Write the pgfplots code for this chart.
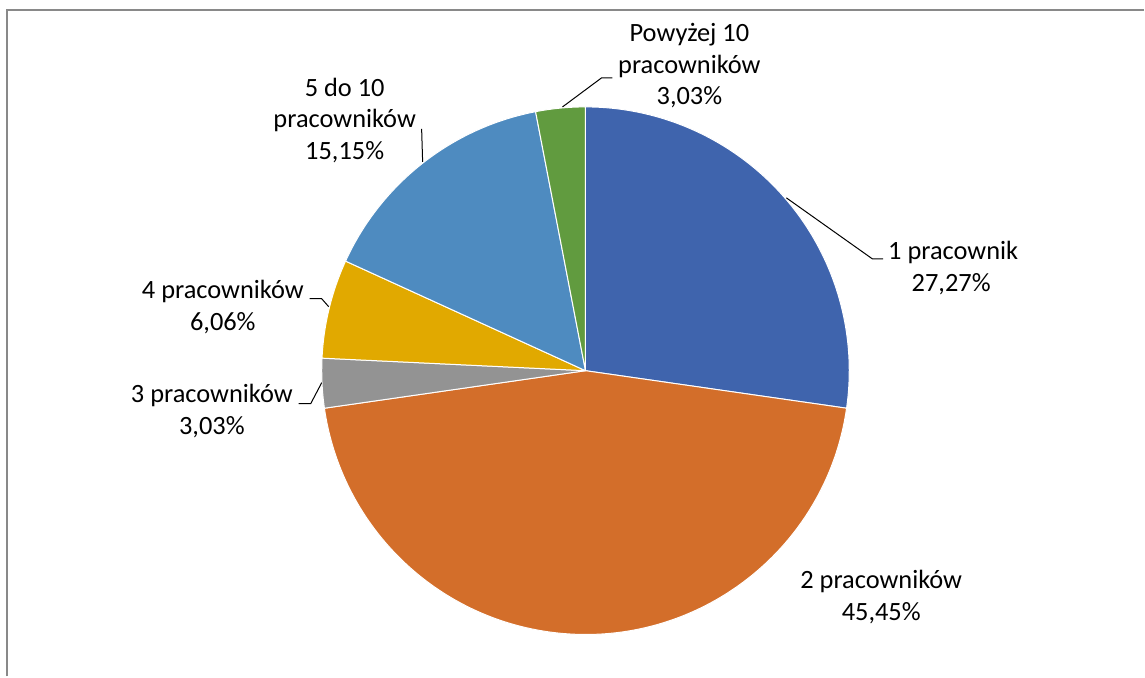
\documentclass[border=0pt]{standalone}
\usepackage{pgfplots}
\pgfplotsset{compat=1.18}
\usepackage{pgfplotstable}
\usepackage{fontspec}
\setmainfont{Carlito}

\definecolor{s0}{HTML}{3F64AD}
\definecolor{s1}{HTML}{D36E2A}
\definecolor{s2}{HTML}{939393}
\definecolor{s3}{HTML}{E1A900}
\definecolor{s4}{HTML}{4E8BC0}
\definecolor{s5}{HTML}{619B3F}
\definecolor{framegray}{HTML}{898989}

% share of firms by number of employees, clockwise from 12 o'clock
\pgfplotstableread{
pct
27.27
45.45
3.03
6.06
15.15
3.03
}\piedata

% slice angles from the table
\def\total{0}%
\pgfplotsforeachungrouped \i in {0,...,5}{%
  \pgfplotstablegetelem{\i}{pct}\of\piedata
  \pgfmathsetmacro\total{\total+\pgfplotsretval}%
}%
\def\cum{0}%
\pgfplotsforeachungrouped \i in {0,...,5}{%
  \pgfplotstablegetelem{\i}{pct}\of\piedata
  \pgfmathsetmacro\sa{90-360*(\cum/\total)}%
  \pgfmathsetmacro\cum{\cum+\pgfplotsretval}%
  \pgfmathsetmacro\ea{90-360*(\cum/\total)}%
  \expandafter\xdef\csname sa\i\endcsname{\sa}%
  \expandafter\xdef\csname ea\i\endcsname{\ea}%
}%

\newcommand\lblfont{\fontsize{13.2bp}{16bp}\selectfont}

\begin{document}
\begin{tikzpicture}
\begin{axis}[
    width=572.5bp, height=338.5bp, scale only axis,
    xmin=0, xmax=1145, ymin=0, ymax=677, y dir=reverse,
    hide axis, clip=false,
]
\path (axis cs:0,0) rectangle (axis cs:1145,677);
% chart frame
\draw[framegray, line width=1bp] (axis cs:7.5,677) -- (axis cs:7.5,10.5) -- (axis cs:1145,10.5);

\pgfplotsinvokeforeach{0,...,5}{
  \filldraw[fill=s#1, draw=white, line width=0.5bp, line join=round]
    (axis cs:586,371) -- ++(\csname sa#1\endcsname:132bp)
    arc[start angle=\csname sa#1\endcsname, end angle=\csname ea#1\endcsname, radius=132bp] -- cycle;
}

% leader lines
\draw[black, line width=0.5bp] (axis cs:563,107) -- (axis cs:602,78) -- (axis cs:613,78);
\draw[black, line width=0.5bp] (axis cs:422,129) -- (axis cs:423,162);
\draw[black, line width=0.5bp] (axis cs:787,198) -- (axis cs:873,259) -- (axis cs:884,259);
\draw[black, line width=0.5bp] (axis cs:310,299) -- (axis cs:322,299) -- (axis cs:329,307);
\draw[black, line width=0.5bp] (axis cs:299,404) -- (axis cs:311,404) -- (axis cs:322,383);

% data labels
\begin{scope}[every node/.style={anchor=base, inner sep=0pt, font=\lblfont, text=black}]
\node at (axis cs:690,42) {Powyżej 10};
\node at (axis cs:690,73.5) {pracowników};
\node at (axis cs:690,105) {3,03\%};
\node at (axis cs:345,97) {5 do 10};
\node at (axis cs:345,128) {pracowników};
\node at (axis cs:345,160) {15,15\%};
\node at (axis cs:954,260) {1 pracownik};
\node at (axis cs:952,292) {27,27\%};
\node at (axis cs:223,299) {4 pracowników};
\node at (axis cs:223,331) {6,06\%};
\node at (axis cs:212,403) {3 pracowników};
\node at (axis cs:212,435) {3,03\%};
\node at (axis cs:882,589) {2 pracowników};
\node at (axis cs:882,621) {45,45\%};
\end{scope}
\end{axis}
\end{tikzpicture}
\end{document}
